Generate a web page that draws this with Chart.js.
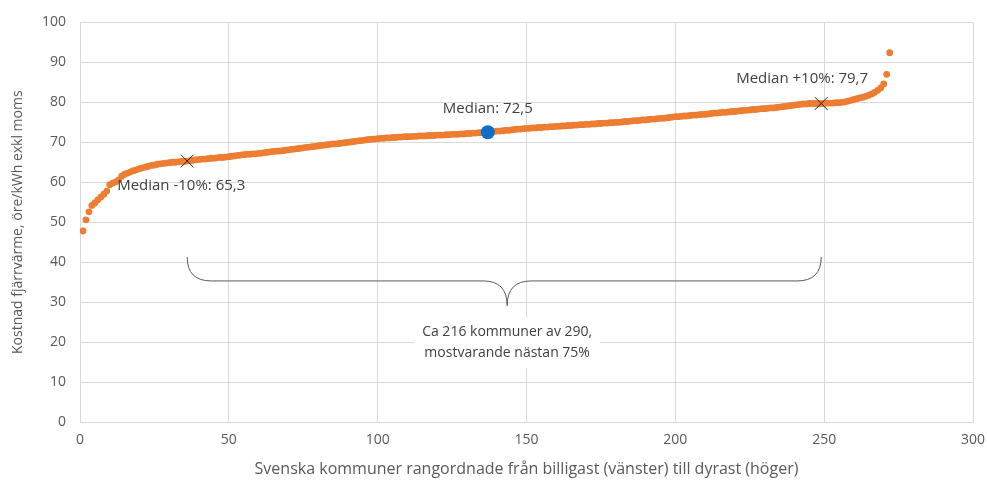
<!DOCTYPE html>
<html>
<head>
<meta charset="utf-8">
<script src="https://cdn.jsdelivr.net/npm/chart.js@4"></script>
<style>
  html, body { margin: 0; padding: 0; background: #fff; }
  #wrap { width: 987px; height: 483px; }
</style>
</head>
<body>
<div id="wrap"><canvas id="chart"></canvas></div>
<script>
// kostnad per kommun, sorterad (öre/kWh exkl moms)
const costs = [
  47.8, 50.6, 52.6, 54.2, 54.8, 55.6, 56.3, 57.0, 57.8, 59.4,
  59.8, 60.1, 60.6, 61.5, 62.0, 62.3, 62.6, 62.9, 63.1, 63.4,
  63.6, 63.8, 64.0, 64.2, 64.3, 64.5, 64.6, 64.7, 64.8, 64.9,
  65.0, 65.0, 65.1, 65.2, 65.2, 65.3, 65.4, 65.5, 65.6, 65.7,
  65.8, 65.8, 65.9, 66.0, 66.0, 66.1, 66.2, 66.2, 66.3, 66.4,
  66.5, 66.6, 66.7, 66.8, 66.9, 67.0, 67.0, 67.1, 67.1, 67.2,
  67.3, 67.4, 67.5, 67.6, 67.7, 67.8, 67.8, 67.9, 68.0, 68.1,
  68.2, 68.3, 68.4, 68.5, 68.6, 68.7, 68.8, 68.9, 69.0, 69.1,
  69.2, 69.3, 69.4, 69.5, 69.6, 69.6, 69.7, 69.8, 69.9, 70.0,
  70.1, 70.2, 70.3, 70.4, 70.5, 70.6, 70.7, 70.8, 70.8, 70.9,
  71.0, 71.0, 71.1, 71.1, 71.2, 71.2, 71.3, 71.3, 71.4, 71.4,
  71.4, 71.5, 71.5, 71.6, 71.6, 71.6, 71.7, 71.7, 71.7, 71.8,
  71.8, 71.8, 71.9, 71.9, 72.0, 72.0, 72.0, 72.1, 72.1, 72.2,
  72.2, 72.3, 72.3, 72.4, 72.4, 72.5, 72.5, 72.6, 72.7, 72.8,
  72.8, 72.9, 73.0, 73.0, 73.1, 73.2, 73.3, 73.3, 73.4, 73.5,
  73.5, 73.6, 73.6, 73.7, 73.7, 73.8, 73.8, 73.9, 73.9, 74.0,
  74.0, 74.1, 74.1, 74.2, 74.2, 74.3, 74.3, 74.4, 74.4, 74.5,
  74.5, 74.6, 74.6, 74.7, 74.7, 74.8, 74.8, 74.9, 74.9, 75.0,
  75.0, 75.1, 75.2, 75.2, 75.3, 75.4, 75.4, 75.5, 75.6, 75.6,
  75.7, 75.8, 75.8, 75.9, 76.0, 76.0, 76.1, 76.2, 76.3, 76.4,
  76.4, 76.5, 76.6, 76.6, 76.7, 76.8, 76.8, 76.9, 77.0, 77.0,
  77.1, 77.2, 77.3, 77.3, 77.4, 77.5, 77.5, 77.6, 77.7, 77.7,
  77.8, 77.9, 78.0, 78.0, 78.1, 78.2, 78.2, 78.3, 78.4, 78.4,
  78.5, 78.6, 78.6, 78.7, 78.8, 78.9, 79.0, 79.1, 79.2, 79.3,
  79.4, 79.5, 79.6, 79.6, 79.7, 79.7, 79.7, 79.7, 79.7, 79.7,
  79.8, 79.8, 79.8, 79.9, 79.9, 80.0, 80.1, 80.3, 80.5, 80.7,
  80.9, 81.1, 81.3, 81.5, 81.8, 82.1, 82.5, 83.0, 83.6, 84.6,
  87.0, 92.4
];

// medianen och +/-10 %
const medianRank = 137;
const medianValue = 72.5;
const lowRank = 36;
const lowValue = 65.3;
const highRank = 249;
const highValue = 79.7;

const labelMedian = "Median: 72,5";
const labelLow = "Median -10%: 65,3";
const labelHigh = "Median +10%: 79,7";
const braceText = ["Ca 216 kommuner av 290,", "mostvarande nästan 75%"];

// klammerns läge (datavärden)
const braceTop = 41.3;
const braceMid = 35.3;
const braceTip = 29.1;

const xTitle = "Svenska kommuner rangordnade från billigast (vänster) till dyrast (höger)";
const yTitle = "Kostnad fjärrvärme, öre/kWh exkl moms";

const orange = "#ED7D31";
const blue = "#0F6FC6";
const textGrey = "#595959";
const gridGrey = "#D9D9D9";

const points = costs.map((v, i) => ({ x: i + 1, y: v }));

// etiketter och klammer
const annotations = {
  id: "annotations",
  beforeDatasetsDraw(chart) {
    const { ctx, scales } = chart;
    const x = scales.x, y = scales.y;
    const x0 = x.getPixelForValue(lowRank);
    const x1 = x.getPixelForValue(highRank);
    const xm = x.getPixelForValue((lowRank + highRank) / 2 + 1);
    const yt = y.getPixelForValue(braceTop);
    const ym = y.getPixelForValue(braceMid);
    const yp = y.getPixelForValue(braceTip);
    const r = 24;

    ctx.save();
    ctx.strokeStyle = "#595959";
    ctx.lineWidth = 1;
    ctx.beginPath();
    ctx.moveTo(x0, yt);
    ctx.quadraticCurveTo(x0, ym, x0 + r, ym);
    ctx.lineTo(xm - r, ym);
    ctx.quadraticCurveTo(xm, ym, xm, yp);
    ctx.quadraticCurveTo(xm, ym, xm + r, ym);
    ctx.lineTo(x1 - r, ym);
    ctx.quadraticCurveTo(x1, ym, x1, yt);
    ctx.stroke();

    // textruta
    ctx.font = "14px 'Open Sans'";
    const w = Math.max(...braceText.map(t => ctx.measureText(t).width)) + 16;
    const ty = yp + 26;
    ctx.fillStyle = "#fff";
    ctx.fillRect(xm - w / 2, ty - 14, w, 50);
    ctx.fillStyle = "#404040";
    ctx.textAlign = "center";
    ctx.textBaseline = "middle";
    ctx.fillText(braceText[0], xm, ty);
    ctx.fillText(braceText[1], xm, ty + 21);
    ctx.restore();
  },
  afterDatasetsDraw(chart) {
    const { ctx, scales } = chart;
    const x = scales.x, y = scales.y;
    ctx.save();
    ctx.font = "15px 'Open Sans'";
    ctx.fillStyle = "#404040";
    ctx.textBaseline = "middle";
    ctx.textAlign = "left";
    ctx.fillText(labelLow, x.getPixelForValue(lowRank) - 70, y.getPixelForValue(lowValue) + 25);
    ctx.fillText(labelHigh, x.getPixelForValue(highRank) - 85, y.getPixelForValue(highValue) - 25);
    ctx.textAlign = "center";
    ctx.fillText(labelMedian, x.getPixelForValue(medianRank), y.getPixelForValue(medianValue) - 24);
    ctx.restore();
  }
};

new Chart(document.getElementById("chart"), {
  type: "scatter",
  data: {
    datasets: [
      {
        label: "median",
        data: [{ x: medianRank, y: medianValue }],
        backgroundColor: blue,
        borderWidth: 0,
        pointRadius: 7,
      },
      {
        label: "median +/-10%",
        data: [{ x: lowRank, y: lowValue }, { x: highRank, y: highValue }],
        pointStyle: "crossRot",
        borderColor: "#262626",
        borderWidth: 1,
        pointRadius: 9,
      },
      {
        label: "kommuner",
        data: points,
        backgroundColor: orange,
        borderWidth: 0,
        pointRadius: 3.4,
      },
    ],
  },
  options: {
    responsive: true,
    maintainAspectRatio: false,
    animation: false,
    layout: { padding: { top: 20, right: 14, left: 10, bottom: 4 } },
    plugins: {
      legend: { display: false },
      tooltip: { enabled: false },
    },
    scales: {
      x: {
        type: "linear",
        min: 0,
        max: 300,
        ticks: {
          stepSize: 50,
          color: textGrey,
          font: { family: "'Open Sans'", size: 14 },
          padding: 10,
        },
        grid: { color: gridGrey, drawTicks: false },
        border: { color: gridGrey },
        title: {
          display: true,
          text: xTitle,
          color: textGrey,
          font: { family: "'Open Sans'", size: 16 },
          padding: { top: 5, bottom: 0 },
        },
        afterFit(s) {
          s.height = 57;
          s.paddingRight = 0;
        },
      },
      y: {
        min: 0,
        max: 100,
        ticks: {
          stepSize: 10,
          color: textGrey,
          font: { family: "'Open Sans'", size: 14 },
          padding: 14,
        },
        grid: { color: gridGrey, drawTicks: false },
        border: { display: false },
        title: {
          display: true,
          text: yTitle,
          color: textGrey,
          font: { family: "'Open Sans'", size: 14 },
          padding: { top: 0, bottom: 8 },
        },
        afterFit(s) { s.width = 70; },
      },
    },
  },
  plugins: [annotations],
});
</script>
</body>
</html>
